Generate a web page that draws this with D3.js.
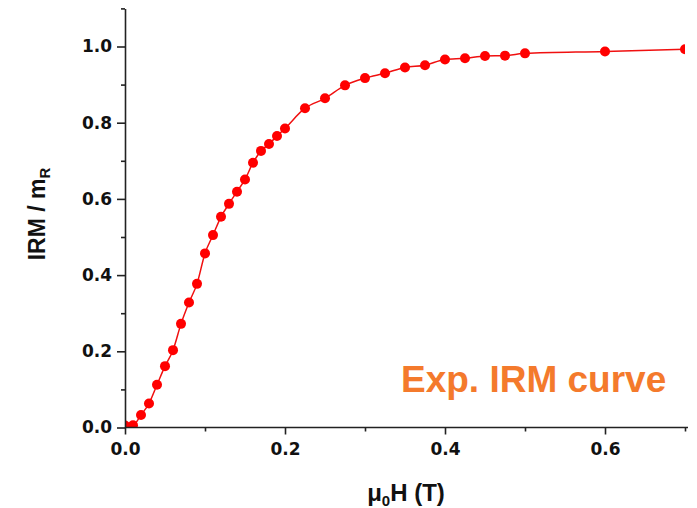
<!DOCTYPE html>
<html>
<head>
<meta charset="utf-8">
<script src="https://cdn.jsdelivr.net/npm/d3@7"></script>
<style>
  body { margin: 0; background: #fff; }
  text { font-family: "Liberation Sans", Arial, sans-serif; font-weight: bold; }
</style>
</head>
<body>
<div id="graph"></div>
<script>
// applied field (T) and normalised IRM
var fieldT = [0, 0.01, 0.02, 0.03, 0.04, 0.05, 0.06, 0.07, 0.08, 0.09, 0.10,
  0.11, 0.12, 0.13, 0.14, 0.15, 0.16, 0.17, 0.18, 0.19, 0.20,
  0.225, 0.25, 0.275, 0.30, 0.325, 0.35, 0.375, 0.40, 0.425, 0.45, 0.475, 0.50,
  0.60, 0.70];
var irm = [0.005, 0.006, 0.033, 0.063, 0.112, 0.161, 0.203, 0.272, 0.328, 0.377, 0.457,
  0.505, 0.553, 0.587, 0.619, 0.651, 0.695, 0.726, 0.744, 0.765, 0.785,
  0.838, 0.864, 0.898, 0.917, 0.930, 0.945, 0.951, 0.966, 0.969, 0.975, 0.976, 0.982,
  0.987, 0.993];

var xMajor = [0, 0.2, 0.4, 0.6];
var xMinor = [0.1, 0.3, 0.5, 0.7];
var yMajor = [0, 0.2, 0.4, 0.6, 0.8, 1.0];
var yMinor = [0.1, 0.3, 0.5, 0.7, 0.9, 1.1];

var width = 697;
var height = 508;
var plot = { left: 125, right: 685, top: 8.4, bottom: 427.5 };

var svg = d3.select("#graph")
  .append("svg")
  .attr("width", width)
  .attr("height", height);

var xScale = d3.scaleLinear().domain([0, 0.7]).range([plot.left, plot.right]);
var yScale = d3.scaleLinear().domain([0, 1.1]).range([plot.bottom, plot.top]);

svg.append("clipPath")
  .attr("id", "plotclip")
  .append("rect")
  .attr("x", plot.left)
  .attr("y", plot.top - 2)
  .attr("width", plot.right - plot.left)
  .attr("height", plot.bottom - plot.top + 2);

var points = fieldT.map(function (f, i) { return { x: f, y: irm[i] }; });

var line = d3.line()
  .x(function (d) { return xScale(d.x); })
  .y(function (d) { return yScale(d.y); })
  .curve(d3.curveMonotoneX);

var plotArea = svg.append("g").attr("clip-path", "url(#plotclip)");

plotArea.append("path")
  .datum(points)
  .attr("fill", "none")
  .attr("stroke", "#f01010")
  .attr("stroke-width", 1.5)
  .attr("d", line);

plotArea.selectAll("circle")
  .data(points)
  .enter()
  .append("circle")
  .attr("cx", function (d) { return xScale(d.x); })
  .attr("cy", function (d) { return yScale(d.y); })
  .attr("r", 5)
  .attr("fill", "#ff0000");

// y axis: major ticks with labels, then minor ones
svg.append("g")
  .attr("class", "y axis")
  .attr("transform", "translate(" + plot.left + ",0)")
  .call(d3.axisLeft(yScale).tickValues(yMajor).tickSize(8).tickPadding(5)
    .tickSizeOuter(0).tickFormat(d3.format(".1f")));
svg.append("g")
  .attr("transform", "translate(" + plot.left + ",0)")
  .call(d3.axisLeft(yScale).tickValues(yMinor).tickSize(4).tickSizeOuter(0).tickFormat(""))
  .select(".domain").remove();

svg.append("g")
  .attr("class", "x axis")
  .attr("transform", "translate(0," + plot.bottom + ")")
  .call(d3.axisBottom(xScale).tickValues(xMajor).tickSize(7).tickPadding(8)
    .tickSizeOuter(0).tickFormat(d3.format(".1f")));
svg.append("g")
  .attr("transform", "translate(0," + plot.bottom + ")")
  .call(d3.axisBottom(xScale).tickValues(xMinor).tickSize(4).tickSizeOuter(0).tickFormat(""))
  .select(".domain").remove();

svg.selectAll(".domain, .tick line")
  .attr("stroke", "#222")
  .attr("stroke-width", 1.6);
svg.select(".x.axis .domain").attr("d", "M" + plot.left + ",0H" + (plot.right + 3));

// tick labels in the reference are wide, DejaVu bold is close
svg.selectAll(".tick text")
  .style("font-family", "'DejaVu Sans', sans-serif")
  .style("font-weight", "bold")
  .attr("font-size", 17)
  .attr("fill", "#111");

// axis titles
var yTitle = svg.append("text")
  .attr("transform", "translate(45,214) rotate(-90)")
  .attr("text-anchor", "middle")
  .attr("font-size", 23)
  .attr("fill", "#111");
yTitle.append("tspan").text("IRM / m");
yTitle.append("tspan").attr("font-size", 15).attr("dy", 5).text("R");

var xTitle = svg.append("text")
  .attr("x", 406)
  .attr("y", 501)
  .attr("text-anchor", "middle")
  .attr("font-size", 24)
  .attr("fill", "#111");
xTitle.append("tspan").text("\u03bc");
xTitle.append("tspan").attr("font-size", 15).attr("dy", 5).text("0");
xTitle.append("tspan").attr("dy", -5).text("H (T)");

svg.append("text")
  .attr("x", 401)
  .attr("y", 392)
  .attr("font-size", 37)
  .attr("fill", "#f47a2c")
  .text("Exp. IRM curve");
</script>
</body>
</html>
